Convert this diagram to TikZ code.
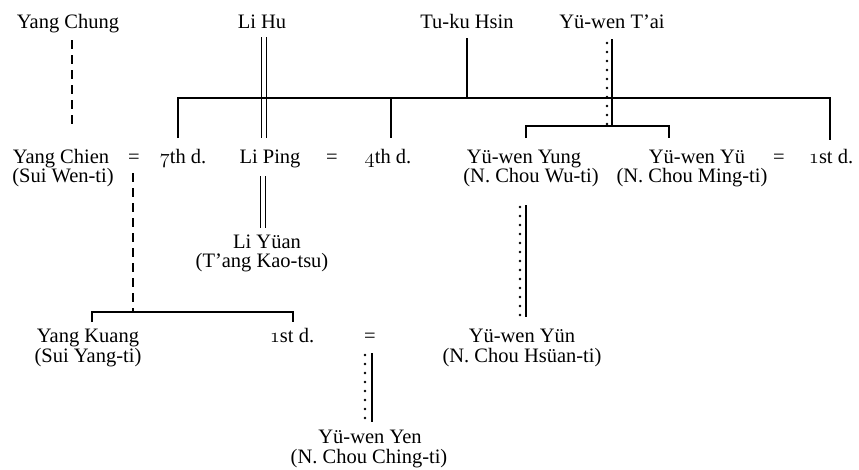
\documentclass[tikz,border=0pt]{standalone}
\usepackage{fontspec}
\setmainfont{Liberation Serif}
\newcommand{\osn}[1]{{\usefont{OML}{cmm}{m}{it}#1}}
\begin{document}
\begin{tikzpicture}[x=1pt,y=-1pt,
  lbl/.style={inner sep=0pt, anchor=base, font=\fontsize{20.5}{23}\selectfont},
  ln/.style={line width=1.4pt},
  dsh/.style={line width=1.5pt, dash pattern=on 9pt off 6pt},
  dbl/.style={double, double distance=3.8pt, line width=1.5pt},
  dts/.style={line width=2.6pt, line cap=round, dash pattern=on 0pt off 9pt}]
\useasboundingbox (0,0) rectangle (859,469);
% top row
\node[lbl] (ychung) at (68,28) {Yang Chung};
\node[lbl] (lihu) at (262,28) {Li Hu};
\node[lbl] (tuku) at (467,28) {Tu-ku Hsin};
\node[lbl] (ytai) at (612,28) {Yü-wen T’ai};
% second row
\node[lbl] (ychien) at (61,163) {Yang Chien};
\node[lbl] (ychienT) at (63,182) {(Sui Wen-ti)};
\node[lbl] (eqa) at (134,163) {=};
\node[lbl] (dseven) at (183,163) {\osn{7}th d.};
\node[lbl] (liping) at (270,163) {Li Ping};
\node[lbl] (eqb) at (332,163) {=};
\node[lbl] (dfour) at (388,163) {\osn{4}th d.};
\node[lbl] (yyung) at (524,163) {Yü-wen Yung};
\node[lbl] (yyungT) at (531,182) {(N. Chou Wu-ti)};
\node[lbl] (yyu) at (697,163) {Yü-wen Yü};
\node[lbl] (yyuT) at (692,182) {(N. Chou Ming-ti)};
\node[lbl] (eqc) at (779,163) {=};
\node[lbl] (donea) at (831,163) {\osn{1}st d.};
% third
\node[lbl] (liyuan) at (267,248) {Li Yüan};
\node[lbl] (liyuanT) at (262,267) {(T’ang Kao-tsu)};
\node[lbl] (ykuang) at (88,342) {Yang Kuang};
\node[lbl] (ykuangT) at (88,362) {(Sui Yang-ti)};
\node[lbl] (doneb) at (292,342) {\osn{1}st d.};
\node[lbl] (eqd) at (370,342) {=};
\node[lbl] (yyun) at (522,342) {Yü-wen Yün};
\node[lbl] (yyunT) at (522,362) {(N. Chou Hsüan-ti)};
\node[lbl] (yyen) at (370,443) {Yü-wen Yen};
\node[lbl] (yyenT) at (369,463.5) {(N. Chou Ching-ti)};
% junction coordinates
\coordinate (bA) at (178,98);
\coordinate (bB) at (830,98);
\coordinate (cA) at (526,126);
\coordinate (cB) at (669,126);
\coordinate (eA) at (92,312);
\coordinate (eB) at (293,312);
% Yang Chung -> Yang Chien
\draw[dsh] (72,40) -- (72,128);
% Li Hu -> Li Ping -> Li Yuan
\draw[dbl] (264,37) -- (264,138);
\draw[dbl] (263,176) -- (263,228);
% Tu-ku Hsin bar
\draw[ln] (467,38) -- (467,98);
\draw[ln] (bA |- 0,138) -- (bA) -- (bB) -- (bB |- 0,140);
\draw[ln] (391,98) -- (391,138);
% Yu-wen T'ai
\draw[ln] (612,39) -- (612,126);
\draw[dts] (607,43) -- (607,124);
\draw[ln] (cA |- 0,138) -- (cA) -- (cB) -- (cB |- 0,138);
% Yang Chien -> children
\draw[dsh] (133,173) -- (133,312);
\draw[ln] (eA |- 0,322) -- (eA) -- (eB) -- (eB |- 0,322);
% Yung -> Yun
\draw[ln] (526,205) -- (526,317);
\draw[dts] (520,207) -- (520,316);
% Yen
\draw[ln] (372,353) -- (372,422);
\draw[dts] (365,355) -- (365,421);
\end{tikzpicture}
\end{document}
